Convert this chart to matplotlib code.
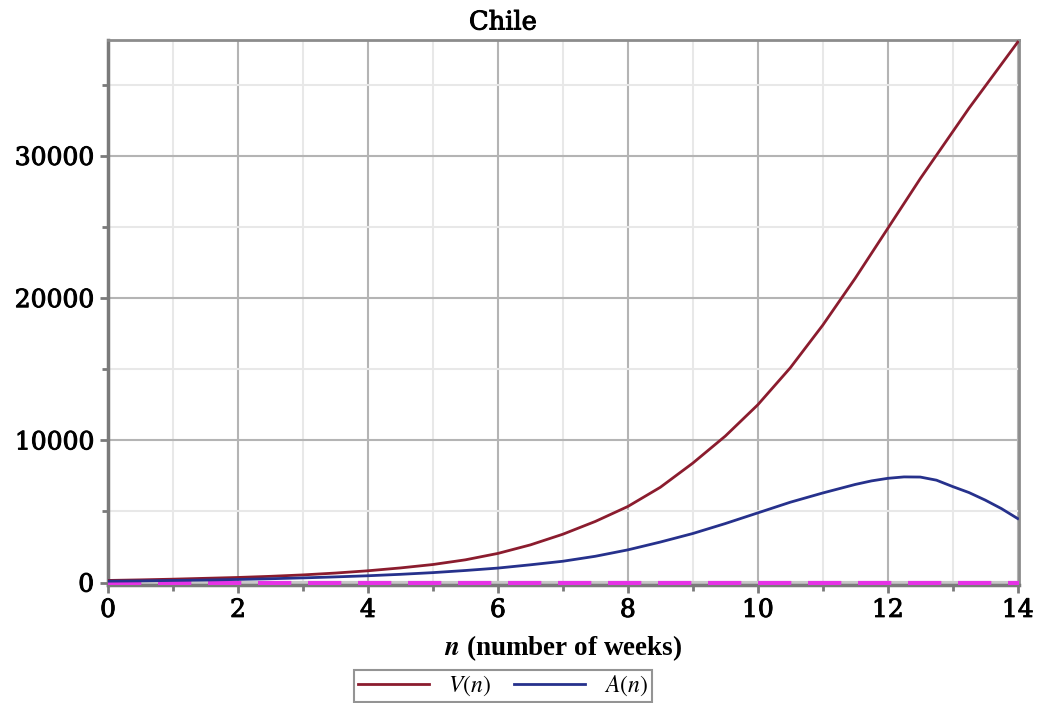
import matplotlib.pyplot as plt
import matplotlib.patheffects as pe
from matplotlib.ticker import MultipleLocator

# weeks and values
weeks = [0, 0.5, 1, 1.5, 2, 2.5, 3, 3.5, 4, 4.5, 5, 5.5, 6, 6.5, 7,
         7.5, 8, 8.5, 9, 9.5, 10, 10.5, 11, 11.5, 11.75, 12, 12.25, 12.5, 12.75,
         13, 13.25, 13.5, 13.75, 14]
V_vals = [150, 190, 240, 300, 360, 440, 540, 670, 830, 1030, 1270, 1600, 2050, 2650, 3400,
          4300, 5350, 6700, 8400, 10300, 12500, 15100, 18100, 21400, 23150, 24900, 26650, 28400, 30050,
          31700, 33350, 34900, 36450, 38000]
A_vals = [100, 120, 150, 180, 220, 270, 330, 400, 480, 580, 700, 850, 1020, 1250, 1500,
          1850, 2300, 2850, 3450, 4150, 4900, 5650, 6300, 6900, 7150, 7330, 7430, 7420, 7200,
          6750, 6330, 5800, 5200, 4500]

plt.rcParams['font.family'] = 'DejaVu Serif'
plt.rcParams['mathtext.fontset'] = 'stix'

heavy = [pe.withStroke(linewidth=0.7, foreground='black')]

fig = plt.figure(figsize=(10.38, 7.03), dpi=100)
ax = fig.add_axes([108/1038, 1 - 585/703, (1019 - 108)/1038, (585 - 40)/703])

# zero line: grey underneath, magenta dashes on top
ax.axhline(0, color='#c8c8c8', lw=3, zorder=2)
ax.axhline(0, color='#e632e6', lw=3, dashes=(8, 4), zorder=3)

ax.plot(weeks, V_vals, color='#8b1c2e', lw=2, label=r'$V(n)$', zorder=4)
ax.plot(weeks, A_vals, color='#26318c', lw=2, label=r'$A(n)$', zorder=4)

ax.set_xlim(0, 14.02)
ax.set_ylim(-170, 38150)
ax.xaxis.set_major_locator(MultipleLocator(2))
ax.xaxis.set_minor_locator(MultipleLocator(1))
ax.yaxis.set_major_locator(MultipleLocator(10000))
ax.yaxis.set_minor_locator(MultipleLocator(5000))

ax.grid(which='major', color='#b4b4b4', lw=1.5)
ax.grid(which='minor', color='#e8e8e8', lw=1.5)
ax.set_axisbelow(True)

for side in ['left', 'bottom']:
    ax.spines[side].set_color('#7a7a7a')
    ax.spines[side].set_linewidth(2.5)
for side in ['top', 'right']:
    ax.spines[side].set_color('#8c8c8c')
    ax.spines[side].set_linewidth(2)

ax.tick_params(which='major', direction='out', length=6, width=2, color='#7a7a7a',
               labelsize=18, pad=4)
ax.tick_params(which='minor', direction='out', length=4, width=2, color='#7a7a7a')
for lab in ax.get_xticklabels() + ax.get_yticklabels():
    lab.set_path_effects(heavy)

fig.text(503/1038, 1 - 22/703, 'Chile', ha='center', va='center', fontsize=18.5,
         path_effects=heavy)
ax.set_xlabel(r'$\mathbfit{n}$ (number of weeks)', fontsize=19.5, fontweight='bold',
              family='Liberation Serif', labelpad=8)

leg = fig.legend(loc='center', bbox_to_anchor=(503/1038, 1 - 686/703), ncol=2,
                 fontsize=17, frameon=True, fancybox=False, handlelength=3,
                 columnspacing=1.0, handletextpad=0.8, borderpad=0.15)
leg.get_frame().set_edgecolor('#7a7a7a')
leg.get_frame().set_linewidth(1.5)

plt.savefig('out.png', dpi=100)
